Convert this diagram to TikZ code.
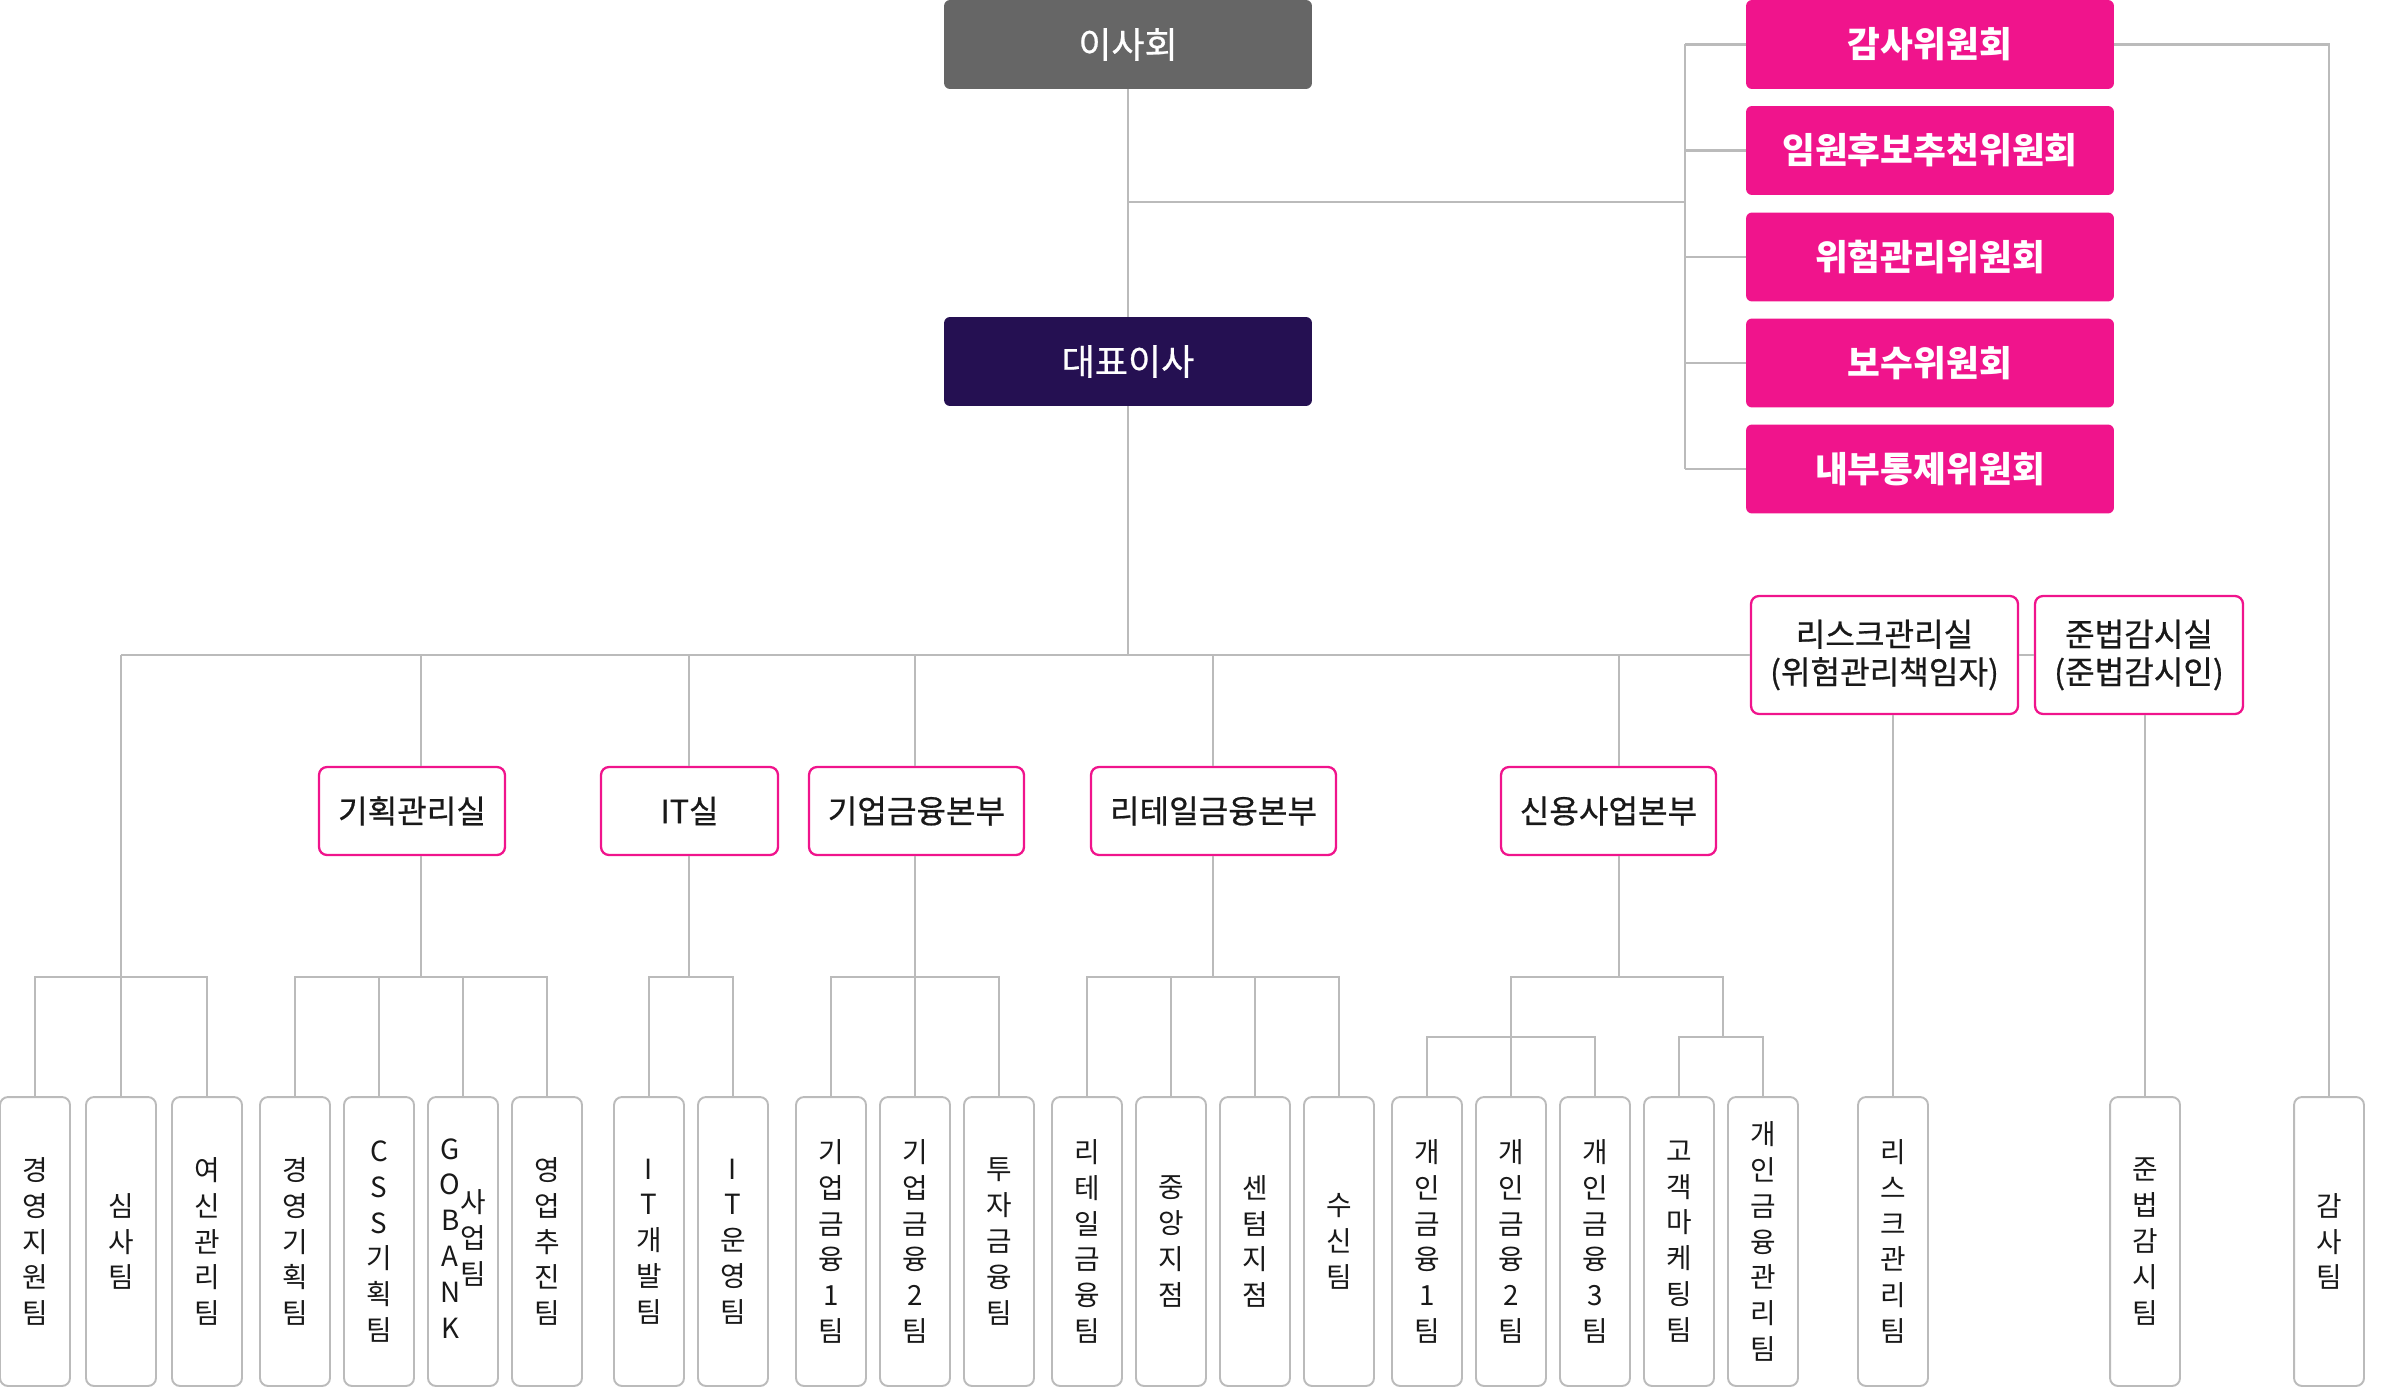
\documentclass[tikz,border=0pt]{standalone}
\usepackage{fontspec}
\setmainfont{Noto Sans CJK KR}
\newfontfamily\krmed{Noto Sans CJK KR}[FakeBold=0.6]
\usepackage{tikz}

\definecolor{boardgray}{HTML}{666666}
\definecolor{ceonavy}{HTML}{251052}
\definecolor{kpink}{HTML}{F0148C}
\definecolor{linegray}{HTML}{BBBBBB}

\begin{document}
\begin{tikzpicture}[x=0.02cm, y=-0.02cm]

        \tikzstyle{board} = [rectangle, rounded corners=0.12cm, minimum width=7.36cm, minimum height=1.78cm, text centered, fill=boardgray, text=white, font=\fontsize{20.5}{24}\krmed]
        \tikzstyle{ceo} = [board, fill=ceonavy]
        \tikzstyle{committee} = [board, fill=kpink, font=\fontsize{20.3}{24}\selectfont\bfseries]
        \tikzstyle{office} = [rectangle, rounded corners=0.16cm, minimum height=1.76cm, align=center, draw=kpink, line width=1.3pt, fill=white, text=black!90, font=\fontsize{18.3}{21.5}\krmed]
        \tikzstyle{team} = [rectangle, rounded corners=0.16cm, minimum width=1.4cm, minimum height=5.78cm, align=center, draw=linegray, line width=1.1pt, fill=white, text=black!90, font=\fontsize{15.8}{20.4}\selectfont, inner sep=0pt]
        \tikzstyle{line} = [draw=linegray, line width=1.15pt]

        \useasboundingbox (0,0) rectangle (2400,1388);

        % board and committees
        \node (board) [board] at (1128,44.5) {이사회};
        \node (ceo) [ceo] at (1128,361.5) {대표이사};
        \node (c1) [committee] at (1930,44.5) {감사위원회};
        \node (c2) [committee] at (1930,150.5) {임원후보추천위원회};
        \node (c3) [committee] at (1930,257) {위험관리위원회};
        \node (c4) [committee] at (1930,363) {보수위원회};
        \node (c5) [committee] at (1930,469) {내부통제위원회};

        % offices
        \node (plan) [office, minimum width=3.72cm] at (412,811) {기획관리실};
        \node (itoffice) [office, minimum width=3.54cm] at (689.5,811) {IT실};
        \node (corp) [office, minimum width=4.3cm] at (916.5,811) {기업금융본부};
        \node (retail) [office, minimum width=4.9cm] at (1213.5,811) {리테일금융본부};
        \node (credit) [office, minimum width=4.3cm] at (1608.5,811) {신용사업본부};
        \node (risk) [office, minimum width=5.34cm, minimum height=2.36cm] at (1884.5,655) {리스크관리실\\(위험관리책임자)};
        \node (comp) [office, minimum width=4.16cm, minimum height=2.36cm] at (2139,655) {준법감시실\\(준법감시인)};

        % teams
        \node (t1) [team] at (35,1241.5) {경\\영\\지\\원\\팀};
        \node (t2) [team] at (121,1241.5) {심\\사\\팀};
        \node (t3) [team] at (207,1241.5) {여\\신\\관\\리\\팀};
        \node (t4) [team] at (295,1241.5) {경\\영\\기\\획\\팀};
        \node (t5) [team] at (379,1241.5) {C\\S\\S\\기\\획\\팀};
        \node (t6) [team] at (463,1241.5) {\begin{tabular}[c]{@{}c@{}}G\\O\\B\\A\\N\\K\end{tabular}\begin{tabular}[c]{@{}c@{}}사\\업\\팀\end{tabular}};
        \node (t7) [team] at (547,1241.5) {영\\업\\추\\진\\팀};
        \node (t8) [team] at (649,1241.5) {I\\T\\개\\발\\팀};
        \node (t9) [team] at (733,1241.5) {I\\T\\운\\영\\팀};
        \node (t10) [team] at (831,1241.5) {기\\업\\금\\융\\1\\팀};
        \node (t11) [team] at (915,1241.5) {기\\업\\금\\융\\2\\팀};
        \node (t12) [team] at (999,1241.5) {투\\자\\금\\융\\팀};
        \node (t13) [team] at (1087,1241.5) {리\\테\\일\\금\\융\\팀};
        \node (t14) [team] at (1171,1241.5) {중\\앙\\지\\점};
        \node (t15) [team] at (1255,1241.5) {센\\텀\\지\\점};
        \node (t16) [team] at (1339,1241.5) {수\\신\\팀};
        \node (t17) [team] at (1427,1241.5) {개\\인\\금\\융\\1\\팀};
        \node (t18) [team] at (1511,1241.5) {개\\인\\금\\융\\2\\팀};
        \node (t19) [team] at (1595,1241.5) {개\\인\\금\\융\\3\\팀};
        \node (t20) [team] at (1679,1241.5) {고\\객\\마\\케\\팅\\팀};
        \node (t21) [team] at (1763,1241.5) {개\\인\\금\\융\\관\\리\\팀};
        \node (rteam) [team] at (1893,1241.5) {리\\스\\크\\관\\리\\팀};
        \node (cteam) [team] at (2145,1241.5) {준\\법\\감\\시\\팀};
        \node (audit) [team] at (2329,1241.5) {감\\사\\팀};

        % junctions
        \coordinate (j1) at (1128,202);
        \coordinate (cmt) at (1685,202);
        \coordinate (mainbus) at (1128,655);
        \coordinate (busL) at (121,655);
        \coordinate (g0) at (121,977);
        \coordinate (g1) at (421,977);
        \coordinate (g2) at (689,977);
        \coordinate (g3) at (915,977);
        \coordinate (g4) at (1213,977);
        \coordinate (g5) at (1619,977);
        \coordinate (g5a) at (1511,1037);
        \coordinate (g5b) at (1723,1037);

        \draw [line] (board) -- (ceo);
        \draw [line] (j1) -- (cmt);
        \draw [line] (c1.west -| cmt) -- (c5.west -| cmt);
        \draw [line] (c1.west) -- (c1.west -| cmt);
        \draw [line] (c2.west) -- (c2.west -| cmt);
        \draw [line] (c3.west) -- (c3.west -| cmt);
        \draw [line] (c4.west) -- (c4.west -| cmt);
        \draw [line] (c5.west) -- (c5.west -| cmt);
        \draw [line] (c1.east) -| (audit.north);

        \draw [line] (ceo) -- (mainbus);
        \draw [line] (busL) -- (risk.west);
        \draw [line] (risk.east) -- (comp.west);
        \draw [line] (risk.south -| rteam.north) -- (rteam.north);
        \draw [line] (comp.south -| cteam.north) -- (cteam.north);

        \draw [line] (busL) -- (g0);
        \draw [line] (t1.north) |- (g0) -| (t3.north);
        \draw [line] (t2.north) -- (g0);

        \draw [line] (g1 |- busL) -- (plan.north -| g1);
        \draw [line] (plan.south -| g1) -- (g1);
        \draw [line] (t4.north) |- (g1) -| (t7.north);
        \draw [line] (t5.north) -- (t5.north |- g1);
        \draw [line] (t6.north) -- (t6.north |- g1);

        \draw [line] (g2 |- busL) -- (itoffice.north -| g2);
        \draw [line] (itoffice.south -| g2) -- (g2);
        \draw [line] (t8.north) |- (g2) -| (t9.north);

        \draw [line] (g3 |- busL) -- (corp.north -| g3);
        \draw [line] (corp.south -| g3) -- (g3);
        \draw [line] (t10.north) |- (g3) -| (t12.north);
        \draw [line] (t11.north) -- (g3);

        \draw [line] (g4 |- busL) -- (retail.north -| g4);
        \draw [line] (retail.south -| g4) -- (g4);
        \draw [line] (t13.north) |- (g4) -| (t16.north);
        \draw [line] (t14.north) -- (t14.north |- g4);
        \draw [line] (t15.north) -- (t15.north |- g4);

        \draw [line] (g5 |- busL) -- (credit.north -| g5);
        \draw [line] (credit.south -| g5) -- (g5);
        \draw [line] (g5a) |- (g5) -| (g5b);
        \draw [line] (t17.north) |- (g5a) -| (t19.north);
        \draw [line] (t18.north) -- (g5a);
        \draw [line] (t20.north) |- (g5b) -| (t21.north);
    \end{tikzpicture}
\end{document}
